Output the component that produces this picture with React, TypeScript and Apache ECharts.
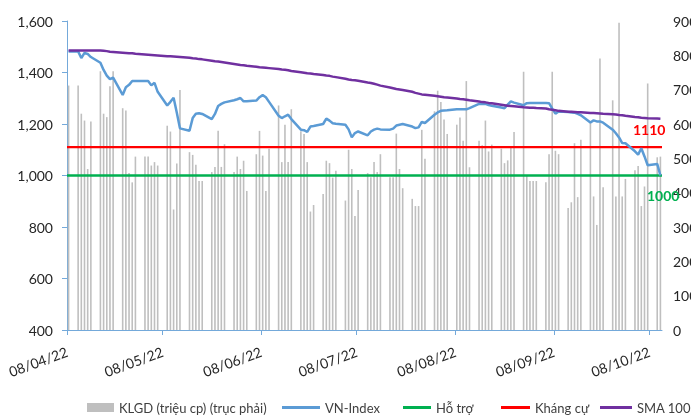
import React, { useEffect, useRef } from "react";
import * as echarts from "echarts";

const YEAR = 2022;

// trading days per month (holidays filled with the previous session's values)
const daysApr = [8, 11, 12, 13, 14, 15, 18, 19, 20, 21, 22, 25, 26, 27, 28, 29];
const daysMay = [2, 3, 4, 5, 6, 9, 10, 11, 12, 13, 16, 17, 18, 19, 20, 23, 24, 25, 26, 27, 30, 31];
const daysJun = [1, 2, 3, 6, 7, 8, 9, 10, 13, 14, 15, 16, 17, 20, 21, 22, 23, 24, 27, 28, 29, 30];
const daysJul = [1, 4, 5, 6, 7, 8, 11, 12, 13, 14, 15, 18, 19, 20, 21, 22, 25, 26, 27, 28, 29];
const daysAug = [1, 2, 3, 4, 5, 8, 9, 10, 11, 12, 15, 16, 17, 18, 19, 22, 23, 24, 25, 26, 29, 30, 31];
const daysSep = [1, 2, 5, 6, 7, 8, 9, 12, 13, 14, 15, 16, 19, 20, 21, 22, 23, 26, 27, 28, 29, 30];
const daysOct = [3, 4, 5, 6, 7, 10, 11];

// VN-Index close
const vnApr = [1482, 1482, 1456, 1476, 1472, 1460, 1438, 1410, 1388, 1374, 1380, 1313, 1343, 1352, 1367, 1367];
const vnMay = [1367, 1367, 1350, 1360, 1325, 1272, 1286, 1302, 1245, 1183, 1174, 1223, 1240, 1242, 1239, 1219, 1239, 1270, 1278, 1284, 1292, 1296];
const vnJun = [1301, 1288, 1288, 1291, 1304, 1312, 1304, 1286, 1232, 1223, 1230, 1236, 1219, 1178, 1176, 1169, 1190, 1192, 1200, 1221, 1213, 1203];
const vnJul = [1201, 1197, 1179, 1148, 1165, 1171, 1156, 1171, 1178, 1182, 1179, 1178, 1182, 1194, 1197, 1200, 1190, 1184, 1187, 1208, 1204];
const vnAug = [1236, 1245, 1251, 1252, 1253, 1257, 1257, 1257, 1257, 1262, 1278, 1279, 1278, 1274, 1271, 1264, 1261, 1275, 1288, 1283, 1273, 1281, 1282];
const vnSep = [1282, 1282, 1282, 1281, 1260, 1240, 1249, 1247, 1245, 1244, 1239, 1234, 1206, 1214, 1210, 1210, 1205, 1178, 1164, 1148, 1126, 1125];
const vnOct = [1094, 1081, 1106, 1074, 1040, 1045, 1000];

// KLGD (million shares)
const volApr = [712, 712, 630, 610, 469, 607, 754, 630, 620, 710, 754, 646, 639, 457, 430, 505];
const volMay = [505, 505, 479, 489, 479, 595, 578, 351, 485, 699, 518, 510, 481, 434, 434, 460, 475, 580, 475, 541, 460, 505];
const volJun = [469, 493, 405, 512, 580, 508, 405, 528, 654, 489, 598, 489, 643, 579, 571, 489, 345, 364, 396, 493, 486, 444];
const volJul = [464, 377, 525, 469, 332, 408, 457, 445, 489, 460, 512, 445, 445, 572, 469, 413, 382, 361, 361, 583, 499];
const volAug = [637, 697, 664, 613, 571, 598, 619, 551, 725, 474, 551, 538, 610, 520, 540, 528, 486, 494, 530, 577, 752, 450, 434];
const volSep = [434, 434, 430, 512, 752, 522, 512, 355, 372, 544, 387, 554, 603, 389, 306, 791, 416, 669, 389, 895, 389, 440];
const volOct = [465, 478, 361, 418, 718, 503, 505];

// SMA 100
const smaApr = [1485, 1485, 1485, 1485, 1485, 1485, 1485, 1484, 1483, 1481, 1480, 1477, 1476, 1475, 1475, 1473];
const smaMay = [1470, 1469, 1468, 1467, 1466, 1463, 1463, 1462, 1461, 1460, 1457, 1455, 1454, 1452, 1451, 1446, 1444, 1443, 1441, 1439, 1433, 1431];
const smaJun = [1429, 1428, 1426, 1422, 1420, 1419, 1418, 1417, 1414, 1412, 1411, 1409, 1406, 1401, 1399, 1397, 1396, 1394, 1390, 1388, 1387, 1384];
const smaJul = [1382, 1376, 1373, 1371, 1370, 1368, 1361, 1359, 1356, 1353, 1349, 1342, 1339, 1336, 1334, 1332, 1325, 1321, 1318, 1315, 1314];
const smaAug = [1310, 1308, 1306, 1304, 1303, 1299, 1297, 1296, 1294, 1292, 1287, 1285, 1284, 1282, 1281, 1275, 1273, 1271, 1270, 1269, 1265, 1264, 1263];
const smaSep = [1263, 1262, 1260, 1257, 1255, 1253, 1251, 1248, 1248, 1247, 1246, 1246, 1243, 1243, 1242, 1241, 1240, 1238, 1237, 1235, 1234, 1232];
const smaOct = [1227, 1226, 1224, 1223, 1222, 1221, 1220];

const supportLevel = 1000;
const resistanceLevel = 1110;

const tickLabels = ["08/04/22", "08/05/22", "08/06/22", "08/07/22", "08/08/22", "08/09/22", "08/10/22"];
const tickMonths = [4, 5, 6, 7, 8, 9, 10];
const tickDay = 8;

const leftTicks = [400, 600, 800, 1000, 1200, 1400, 1600];
const rightTicks = [0, 100, 200, 300, 400, 500, 600, 700, 800, 900];

const months = [
  { m: 4, days: daysApr, vn: vnApr, vol: volApr, sma: smaApr },
  { m: 5, days: daysMay, vn: vnMay, vol: volMay, sma: smaMay },
  { m: 6, days: daysJun, vn: vnJun, vol: volJun, sma: smaJun },
  { m: 7, days: daysJul, vn: vnJul, vol: volJul, sma: smaJul },
  { m: 8, days: daysAug, vn: vnAug, vol: volAug, sma: smaAug },
  { m: 9, days: daysSep, vn: vnSep, vol: volSep, sma: smaSep },
  { m: 10, days: daysOct, vn: vnOct, vol: volOct, sma: smaOct },
];

const FONT = "Lato";

export default function App() {
  const ref = useRef<HTMLDivElement>(null);
  useEffect(() => {
    if (!ref.current) return;
    const chart = echarts.init(ref.current, null, { renderer: "svg" });

    const volData: any[] = [];
    const vnData: any[] = [];
    const smaData: any[] = [];
    months.forEach((mo) => {
      mo.days.forEach((d, i) => {
        const t = Date.UTC(YEAR, mo.m - 1, d, 12);
        volData.push([t, mo.vol[i]]);
        vnData.push([t, mo.vn[i]]);
        smaData.push([t, mo.sma[i]]);
      });
    });
    const xMin = Date.UTC(YEAR, 3, 8);
    const xMax = Date.UTC(YEAR, 9, 12);
    const tickValues = tickMonths.map((m) => Date.UTC(YEAR, m - 1, tickDay));

    const axisBlue = "#74A9DA";
    const legendText = { fontFamily: FONT, fontSize: 13, color: "#404040" };

    chart.setOption({
      animation: false,
      textStyle: { fontFamily: FONT },
      grid: { left: 67, right: 29, top: 21, bottom: 86, containLabel: false, outerBoundsMode: "none" },
      xAxis: {
        type: "value",
        min: xMin,
        max: xMax,
        splitLine: { show: false },
        axisLine: { show: true, lineStyle: { color: axisBlue, width: 1 } },
        axisTick: { show: true, customValues: tickValues, length: 5, lineStyle: { color: axisBlue } },
        axisLabel: {
          customValues: tickValues,
          rotate: 20,
          margin: 21,
          fontSize: 14,
          fontFamily: FONT,
          color: "#262626",
          formatter: (v: number) => {
            const idx = tickValues.indexOf(v);
            return idx >= 0 ? tickLabels[idx] : "";
          },
        },
      },
      yAxis: [
        {
          type: "value",
          min: leftTicks[0],
          max: leftTicks[leftTicks.length - 1],
          interval: 200,
          splitLine: { show: false },
          axisLine: { show: true, lineStyle: { color: axisBlue } },
          axisTick: { show: true, length: 5, lineStyle: { color: axisBlue } },
          axisLabel: {
            margin: 14,
            fontSize: 14,
            fontFamily: FONT,
            color: "#262626",
            formatter: (v: number) => v.toLocaleString("en-US"),
          },
        },
        {
          type: "value",
          position: "right",
          min: rightTicks[0],
          max: rightTicks[rightTicks.length - 1],
          interval: 100,
          splitLine: { show: false },
          axisLine: { show: false },
          axisTick: { show: false },
          axisLabel: { margin: 11, fontSize: 14, fontFamily: FONT, color: "#262626" },
        },
      ],
      legend: [
        { left: 82, top: 396, icon: "rect", itemWidth: 27, itemHeight: 9, data: ["KLGD (triệu cp) (trục phải)"], textStyle: legendText },
        { left: 277, top: 396, icon: "rect", itemWidth: 38, itemHeight: 3, data: ["VN-Index"], textStyle: legendText },
        { left: 398, top: 396, icon: "rect", itemWidth: 28, itemHeight: 3, data: ["Hỗ trợ"], textStyle: legendText },
        { left: 496, top: 396, icon: "rect", itemWidth: 29, itemHeight: 3, data: ["Kháng cự"], textStyle: legendText },
        { left: 595, top: 396, icon: "rect", itemWidth: 32, itemHeight: 3, data: ["SMA 100"], textStyle: legendText },
      ],
      series: [
        {
          name: "KLGD (triệu cp) (trục phải)",
          type: "bar",
          yAxisIndex: 1,
          barWidth: 1.6,
          itemStyle: { color: "#BFBFBF" },
          data: volData,
        },
        {
          name: "VN-Index",
          type: "line",
          symbol: "none",
          lineStyle: { color: "#5B9BD5", width: 2.5 },
          itemStyle: { color: "#5B9BD5" },
          data: vnData,
          z: 3,
        },
        {
          name: "Hỗ trợ",
          type: "line",
          symbol: "none",
          lineStyle: { color: "#00B050", width: 2.5 },
          itemStyle: { color: "#00B050" },
          data: [[xMin, supportLevel], [xMax, supportLevel]],
          endLabel: {
            show: true,
            formatter: String(supportLevel),
            color: "#00B050",
            fontWeight: "bold",
            fontSize: 14,
            fontFamily: FONT,
            offset: [-23, 20],
          },
          z: 2,
        },
        {
          name: "Kháng cự",
          type: "line",
          symbol: "none",
          lineStyle: { color: "#FF0000", width: 2.2 },
          itemStyle: { color: "#FF0000" },
          data: [[xMin, resistanceLevel], [xMax, resistanceLevel]],
          endLabel: {
            show: true,
            formatter: String(resistanceLevel),
            color: "#FF0000",
            fontWeight: "bold",
            fontSize: 14,
            fontFamily: FONT,
            offset: [-37, -18],
          },
          z: 2,
        },
        {
          name: "SMA 100",
          type: "line",
          symbol: "none",
          lineStyle: { color: "#7030A0", width: 2.5 },
          itemStyle: { color: "#7030A0" },
          data: smaData,
          z: 4,
        },
      ],
    });
    return () => chart.dispose();
  }, []);
  return <div ref={ref} style={{ position: "fixed", left: 0, top: 0, width: 691, height: 416 }} />;
}
